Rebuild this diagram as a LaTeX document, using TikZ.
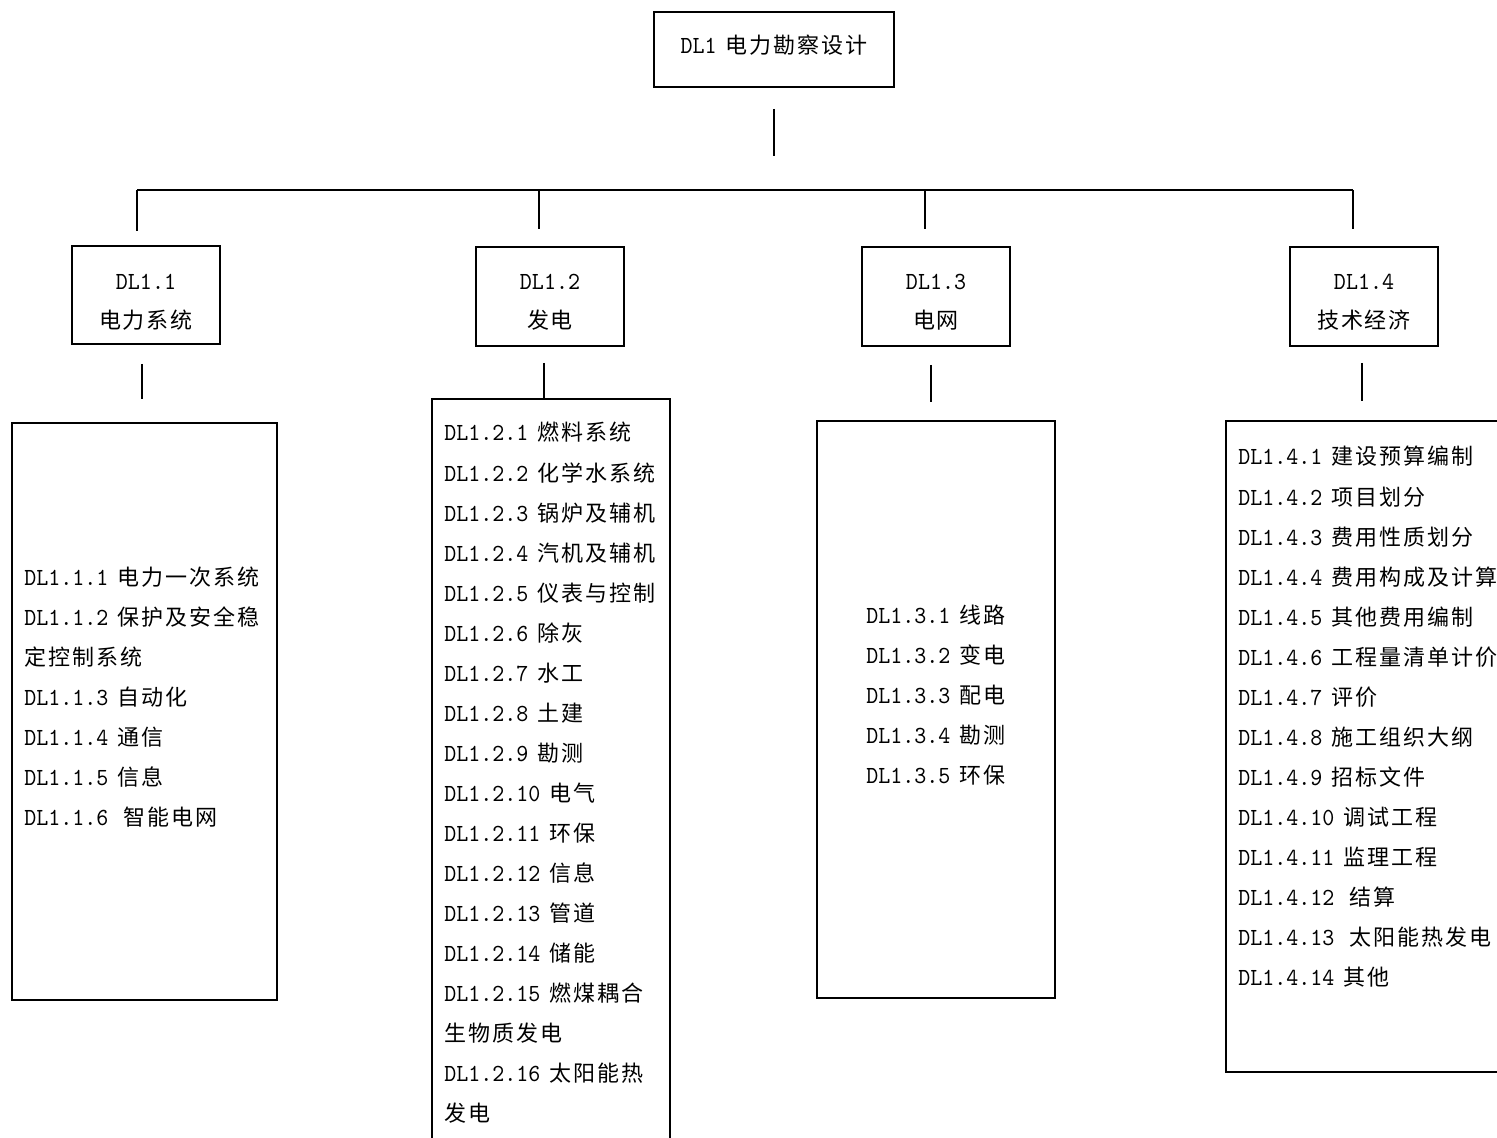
\documentclass[tikz,border=0pt]{standalone}
\usepackage{fontspec}
\newfontfamily\cjk[LetterSpace=9]{Noto Sans CJK SC}
\newfontfamily\lat[FakeStretch=0.93]{lmmono10-regular.otf}
\newcommand{\la}[1]{{\lat\fontsize{12.3}{15}\selectfont #1}}
\newcommand{\cj}[1]{{\cjk\fontsize{11}{15}\selectfont #1}}
\newcommand{\itm}[2]{\ifx#1\empty\else\la{#1}\hspace{4.5pt}\fi\cj{#2}}
\begin{document}
\begin{tikzpicture}[x=0.5pt,y=-0.5pt,
  box/.style={draw, line width=1pt, inner sep=0pt},
  ln/.style={line width=1pt},
  txt/.style={anchor=base west, inner sep=0pt},
  ctxt/.style={anchor=base, inner sep=0pt}]
\clip (0,0) rectangle (1497,1138);
\fill[white] (0,0) rectangle (1497,1138);
% boxes: name, x1,y1,x2,y2
\def\bx#1#2#3#4#5{\node[box, minimum width={(#4-#2)*0.5pt}, minimum height={(#5-#3)*0.5pt}] (#1) at ({(#2+#4)/2},{(#3+#5)/2}) {};}
\bx{top}{654}{12}{894}{87}
\bx{n1}{72}{246}{220}{344}
\bx{n2}{476}{247}{624}{346}
\bx{n3}{862}{247}{1010}{346}
\bx{n4}{1290}{247}{1438}{346}
\bx{l1}{12}{423}{277}{1000}
\bx{l2}{432}{399}{670}{1170}
\bx{l3}{817}{421}{1055}{998}
\bx{l4}{1226}{421}{1530}{1072}
% texts
\node[ctxt] (ttop) at (774,54) {\la{DL1}\hspace{4.5pt}\cj{电力勘察设计}};
\node[ctxt] (t1a) at (146,290) {\la{DL1.1}};
\node[ctxt] (t1b) at (146,329) {\cj{电力系统}};
\node[ctxt] (t2a) at (550,290) {\la{DL1.2}};
\node[ctxt] (t2b) at (550,329) {\cj{发电}};
\node[ctxt] (t3a) at (936,290) {\la{DL1.3}};
\node[ctxt] (t3b) at (936,329) {\cj{电网}};
\node[ctxt] (t4a) at (1364,290) {\la{DL1.4}};
\node[ctxt] (t4b) at (1364,329) {\cj{技术经济}};
% connectors
\coordinate (b1) at (137,190);
\coordinate (b2) at (539,190);
\coordinate (b3) at (925,190);
\coordinate (b4) at (1353,190);
\draw[ln] (top.south) ++(0,21) -- ++(0,47);
\draw[ln] (b1) -- (b4);
\draw[ln] (b1) -- ++(0,41);
\draw[ln] (b2) -- ++(0,39);
\draw[ln] (b3) -- ++(0,39);
\draw[ln] (b4) -- ++(0,39);
\draw[ln] (142,364) -- (142,399);
\draw[ln] (544,363) -- (544,398);
\draw[ln] (931,365) -- (931,402);
\draw[ln] (1362,363) -- (1362,401);
% lists
\foreach \a/\b [count=\i from 0] in {DL1.1.1/电力一次系统, DL1.1.2/保护及安全稳, /定控制系统, DL1.1.3/自动化, DL1.1.4/通信, DL1.1.5/信息, DL1.1.6\hspace{3pt}/智能电网}
  \node[txt] (c1-\i) at (24,{585+40*\i}) {\itm{\a}{\b}};
\foreach \a/\b [count=\i from 0] in {DL1.2.1/燃料系统, DL1.2.2/化学水系统, DL1.2.3/锅炉及辅机, DL1.2.4/汽机及辅机, DL1.2.5/仪表与控制, DL1.2.6/除灰, DL1.2.7/水工, DL1.2.8/土建, DL1.2.9/勘测, DL1.2.10/电气, DL1.2.11/环保, DL1.2.12/信息, DL1.2.13/管道, DL1.2.14/储能, DL1.2.15/燃煤耦合, /生物质发电, DL1.2.16/太阳能热, /发电}
  \node[txt] (c2-\i) at (444,{441+40*\i}) {\itm{\a}{\b}};
\foreach \a/\b [count=\i from 0] in {DL1.3.1/线路, DL1.3.2/变电, DL1.3.3/配电, DL1.3.4/勘测, DL1.3.5/环保}
  \node[txt] (c3-\i) at (866,{623+40*\i}) {\itm{\a}{\b}};
\foreach \a/\b [count=\i from 0] in {DL1.4.1/建设预算编制, DL1.4.2/项目划分, DL1.4.3/费用性质划分, DL1.4.4/费用构成及计算, DL1.4.5/其他费用编制, DL1.4.6/工程量清单计价, DL1.4.7/评价, DL1.4.8/施工组织大纲, DL1.4.9/招标文件, DL1.4.10/调试工程, DL1.4.11/监理工程, DL1.4.12\hspace{3pt}/结算, DL1.4.13\hspace{3pt}/太阳能热发电, DL1.4.14/其他}
  \node[txt] (c4-\i) at (1238,{465+40*\i}) {\itm{\a}{\b}};
\end{tikzpicture}
\end{document}
